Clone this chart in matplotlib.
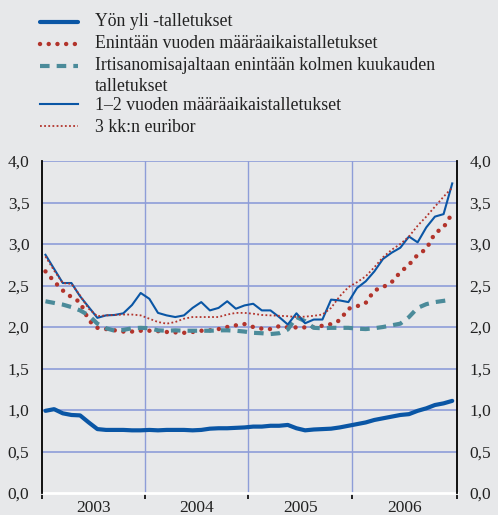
import numpy as np
import matplotlib
matplotlib.use("Agg")
import matplotlib.pyplot as plt
from matplotlib.lines import Line2D
from matplotlib.ticker import FixedLocator, FuncFormatter

# ---- data (monthly, Jan 2003 - Dec 2006) ----
years = ["2003", "2004", "2005", "2006"]
series_labels = [
    "Yön yli -talletukset",
    "Enintään vuoden määräaikaistalletukset",
    "Irtisanomisajaltaan enintään kolmen kuukauden\ntalletukset",
    "1–2 vuoden määräaikaistalletukset",
    "3 kk:n euribor",
]
yon_yli = [0.99, 1.01, 0.96, 0.94, 0.935, 0.85, 0.77, 0.76, 0.76, 0.76, 0.755, 0.755,
           0.76, 0.755, 0.76, 0.76, 0.76, 0.755, 0.76, 0.775, 0.78, 0.78, 0.785, 0.79,
           0.80, 0.80, 0.81, 0.81, 0.82, 0.78, 0.755, 0.765, 0.77, 0.775, 0.79, 0.81,
           0.83, 0.85, 0.88, 0.90, 0.92, 0.94, 0.95, 0.99, 1.02, 1.06, 1.08, 1.11]
enintaan_vuoden = [2.67, 2.55, 2.44, 2.36, 2.30, 2.08, 1.99, 1.975, 1.96, 1.945, 1.945, 1.955,
                   1.955, 1.95, 1.94, 1.935, 1.93, 1.94, 1.955, 1.96, 1.975, 2.00, 2.02, 2.035,
                   2.00, 1.98, 1.975, 2.01, 1.995, 1.995, 1.995, 2.00, 2.015, 2.035, 2.08, 2.22,
                   2.25, 2.29, 2.44, 2.48, 2.54, 2.66, 2.75, 2.87, 2.94, 3.13, 3.20, 3.37]
irtisanomis = [2.31, 2.29, 2.27, 2.24, 2.20, 2.14, 2.04, 1.985, 1.955, 1.965, 1.985, 1.99,
               1.985, 1.96, 1.955, 1.96, 1.955, 1.955, 1.955, 1.955, 1.96, 1.96, 1.955, 1.945,
               1.93, 1.925, 1.915, 1.925, 1.97, 2.12, 2.07, 1.99, 1.985, 1.99, 1.99, 1.99,
               1.98, 1.975, 1.985, 2.00, 2.02, 2.04, 2.12, 2.23, 2.275, 2.30, 2.315, 2.33]
vuoden_1_2 = [2.87, 2.70, 2.53, 2.53, 2.37, 2.24, 2.11, 2.14, 2.145, 2.165, 2.265, 2.41,
              2.34, 2.17, 2.14, 2.12, 2.14, 2.23, 2.30, 2.20, 2.23, 2.31, 2.22, 2.26,
              2.28, 2.20, 2.20, 2.12, 2.03, 2.165, 2.045, 2.09, 2.09, 2.33, 2.32, 2.30,
              2.47, 2.55, 2.67, 2.82, 2.895, 2.955, 3.09, 3.02, 3.20, 3.33, 3.36, 3.73]
euribor = [2.85, 2.68, 2.53, 2.52, 2.38, 2.22, 2.13, 2.14, 2.145, 2.15, 2.15, 2.14,
           2.10, 2.06, 2.04, 2.06, 2.10, 2.12, 2.12, 2.12, 2.12, 2.15, 2.17, 2.17,
           2.16, 2.145, 2.14, 2.135, 2.13, 2.12, 2.125, 2.135, 2.15, 2.23, 2.37, 2.48,
           2.54, 2.61, 2.72, 2.84, 2.93, 3.00, 3.09, 3.22, 3.33, 3.45, 3.57, 3.68]
y_ticks = [0.0, 0.5, 1.0, 1.5, 2.0, 2.5, 3.0, 3.5, 4.0]

# ---- style ----
BG = "#e7e8ea"
BLUE = "#0a56a5"
RED = "#b2342c"
TEAL = "#4b8b9a"
GRID = "#8e9dd8"
TXT = "#222222"
plt.rcParams["font.family"] = ["Liberation Serif", "DejaVu Serif"]

W, H = 498, 515
fig = plt.figure(figsize=(W / 100, H / 100), dpi=100, facecolor=BG)
ax = fig.add_axes([42 / W, (H - 493) / H, 415 / W, 332 / H], facecolor=BG)

x = np.arange(len(yon_yli))
styles = [
    dict(color=BLUE, lw=3.0, solid_capstyle="round"),
    dict(color=RED, lw=3.2, linestyle=(0, (0.01, 1.95)), dash_capstyle="round"),
    dict(color=TEAL, lw=3.0, linestyle=(0, (2.3, 1.7)), dash_capstyle="butt"),
    dict(color=BLUE, lw=1.5),
    dict(color=RED, lw=1.3, linestyle=(0, (1.0, 1.3))),
]
data = [yon_yli, enintaan_vuoden, irtisanomis, vuoden_1_2, euribor]
for d, st in zip(data, styles):
    ax.plot(x, d, zorder=3, **st)

xmin, xmax = -0.4, 47.55
bounds = [xmin, 11.45, 23.45, 35.45, xmax]
ax.set_xlim(xmin, xmax)
ax.set_ylim(0, 4.0)

ax.xaxis.set_major_locator(FixedLocator(bounds))
ax.xaxis.set_major_formatter(FuncFormatter(lambda v, p: ""))
mids = [(bounds[i] + bounds[i + 1]) / 2 for i in range(4)]
ax.xaxis.set_minor_locator(FixedLocator(mids))
ax.set_xticklabels(years, minor=True)
ax.tick_params(axis="x", which="major", length=4, width=1.2, color="black", direction="out")
ax.tick_params(axis="x", which="minor", length=0, pad=5, labelsize=12.5, labelcolor=TXT)

ax.set_yticks(y_ticks)
ax.set_yticklabels([f"{v:.1f}".replace(".", ",") for v in y_ticks])
ax.tick_params(axis="y", which="both", length=0, pad=9, labelsize=12.5, labelcolor=TXT,
               left=True, right=True, labelleft=True, labelright=True)

# grid
for yv in y_ticks[1:]:
    ax.axhline(yv, color=GRID, lw=1.2, zorder=1)
for xv in bounds[1:-1]:
    ax.axvline(xv, color=GRID, lw=1.0, zorder=1)

for s in ["left", "right"]:
    ax.spines[s].set_color("black")
    ax.spines[s].set_linewidth(1.3)
ax.spines["top"].set_visible(False)
ax.spines["bottom"].set_color("white")
ax.spines["bottom"].set_linewidth(2.0)
ax.spines["bottom"].set_zorder(2)

# ---- legend (manual) ----
leg_rows = [22, 44, 66, 104, 126]
text_offsets = [1, 1, 0, -2, -2]
for (yp, off, lab, st) in zip(leg_rows, text_offsets, series_labels, styles):
    yf = 1 - yp / H
    fig.add_artist(Line2D([40 / W, 78 / W], [yf, yf], transform=fig.transFigure, **st))
    if "\n" in lab:
        fig.text(95 / W, 1 - 76 / H, lab, ha="left", va="center", fontsize=12.8,
                 color=TXT, linespacing=1.25)
    else:
        fig.text(95 / W, yf + off / H, lab, ha="left", va="center", fontsize=12.8, color=TXT)

fig.savefig("out.png", dpi=100, facecolor=BG)
